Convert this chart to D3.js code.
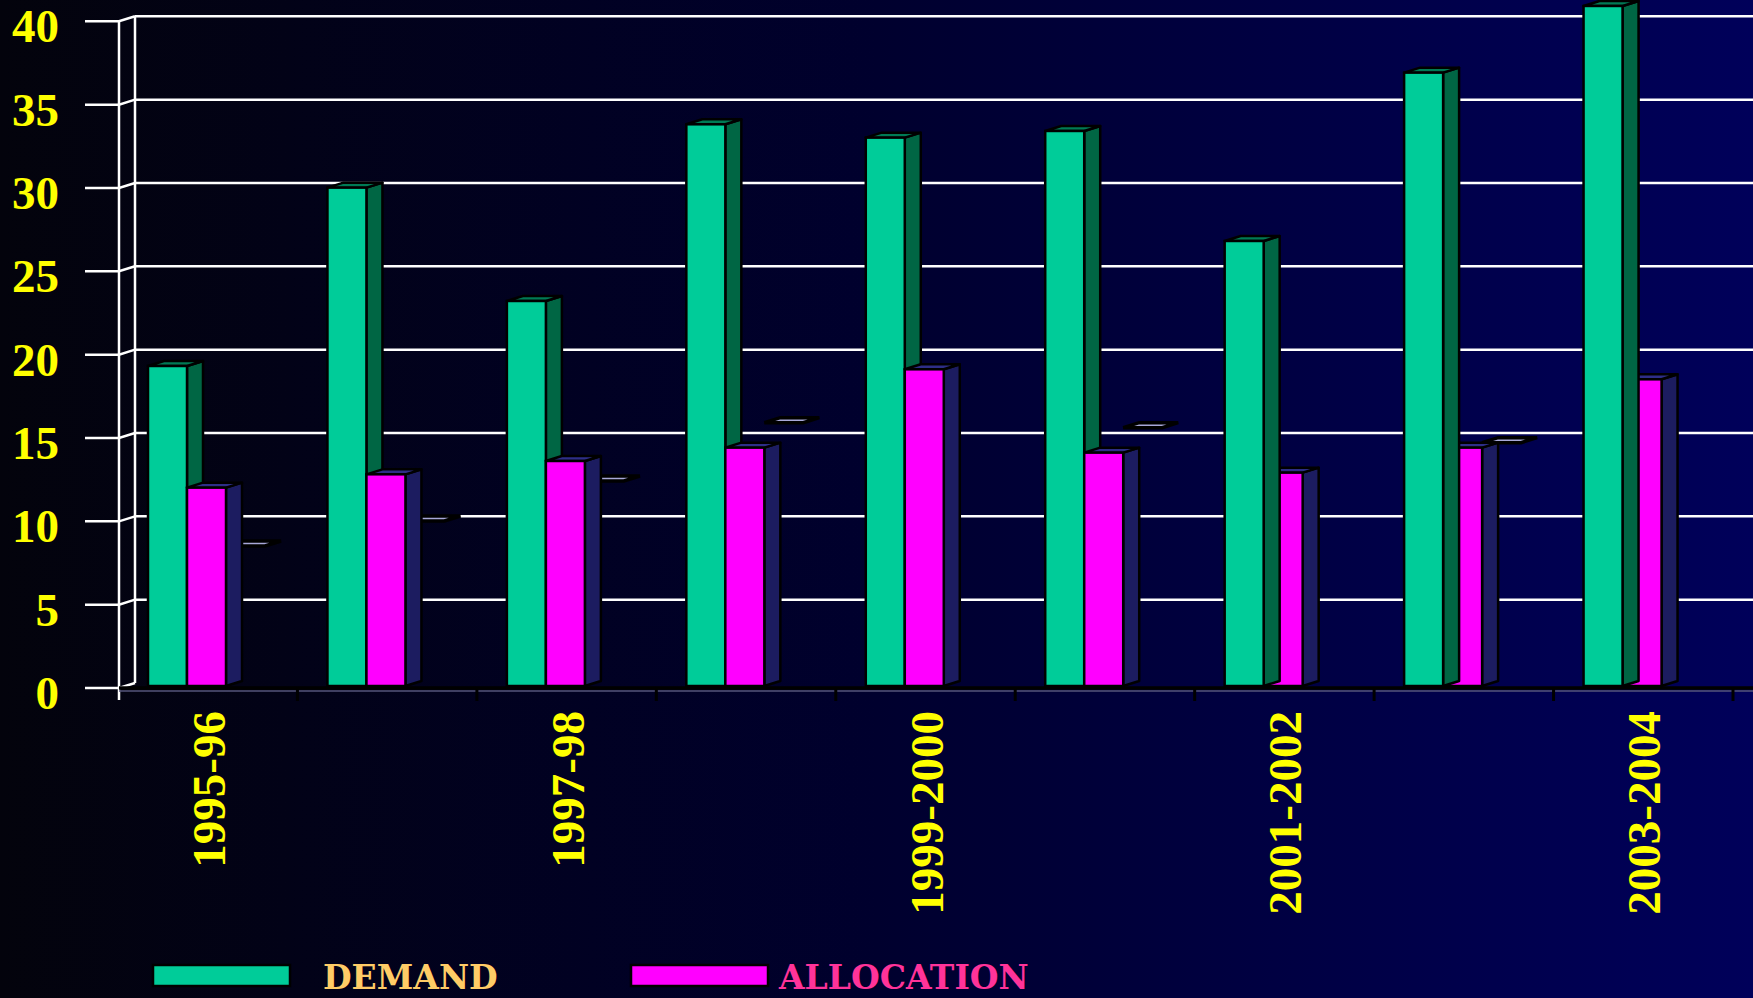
<!DOCTYPE html>
<html>
<head>
<meta charset="utf-8">
<script src="https://cdn.jsdelivr.net/npm/d3@7/dist/d3.min.js"></script>
<style>
  html, body { margin: 0; padding: 0; background: #000; }
  svg { display: block; }
</style>
</head>
<body>
<svg id="chart"></svg>
<script>
var width = 1753,
  height = 998;

// data
var categories = ["1995-96", "1996-97", "1997-98", "1998-99", "1999-2000",
  "2000-2001", "2001-2002", "2002-2003", "2003-2004"];
var demand = [19.2, 29.9, 23.1, 33.7, 32.9, 33.3, 26.7, 36.8, 40.8];
var allocation = [11.9, 12.7, 13.5, 14.3, 19.0, 14.0, 12.8, 14.3, 18.4];
// stray flat plates of an empty third series
var plates = [8.4, 9.9, 12.3, 15.8, null, 15.5, null, 14.6, null];
var yTicks = [0, 5, 10, 15, 20, 25, 30, 35, 40];
var xTickLabels = ["1995-96", "1997-98", "1999-2000", "2001-2002", "2003-2004"];

var depthX = 16, depthY = -5;

var svg = d3.select("#chart").attr("width", width).attr("height", height);

var defs = svg.append("defs");
var grad = defs.append("linearGradient").attr("id", "bg")
  .attr("x1", "0%").attr("y1", "0%").attr("x2", "100%").attr("y2", "0%");
grad.append("stop").attr("offset", "0%").attr("stop-color", "#03030c");
grad.append("stop").attr("offset", "50%").attr("stop-color", "#00002e");
grad.append("stop").attr("offset", "100%").attr("stop-color", "#00005a");

svg.append("rect").attr("width", width).attr("height", height).attr("fill", "url(#bg)");

var x = d3.scaleBand().domain(categories).range([118, 1733]).padding(0);
var xs = d3.scaleBand().domain(["demand", "allocation", "plate"]).range([30, 147]).padding(0);
var y = d3.scaleLinear().domain([0, 40]).range([686, 19.3]);

var wallX = 135, frontX = 119;

// gridlines on the back wall, ticks on the front
var grid = svg.append("g");
yTicks.forEach(function (t) {
  var yf = y(t) + 2, yb = y(t) - 3;
  if (t > 0) {
    grid.append("line").attr("x1", wallX).attr("x2", width).attr("y1", yb).attr("y2", yb)
      .attr("stroke", "#fff").attr("stroke-width", 2.5);
  }
  grid.append("path")
    .attr("d", "M85," + yf + "L" + frontX + "," + yf + "L" + wallX + "," + yb)
    .attr("fill", "none").attr("stroke", "#fff").attr("stroke-width", 2.5);
});
grid.append("line").attr("x1", wallX).attr("x2", wallX).attr("y1", y(40) - 3).attr("y2", y(0) - 3)
  .attr("stroke", "#fff").attr("stroke-width", 2.5);
grid.append("line").attr("x1", frontX).attr("x2", frontX).attr("y1", y(40) + 2).attr("y2", 700)
  .attr("stroke", "#fff").attr("stroke-width", 2.5);

// y labels
svg.append("g").selectAll("text").data(yTicks).enter().append("text")
  .attr("x", 59)
  .attr("y", function (d) { return y(d) + 23; })
  .attr("text-anchor", "end")
  .attr("font-family", "'Liberation Serif', 'Times New Roman', serif")
  .attr("font-weight", "bold")
  .attr("font-size", "47px")
  .attr("fill", "#ffff00")
  .text(function (d) { return d; });

// floor
var floor = svg.append("g");
floor.append("line").attr("x1", frontX).attr("x2", width).attr("y1", 691).attr("y2", 691)
  .attr("stroke", "#55557a").attr("stroke-width", 1.5);
floor.append("line").attr("x1", frontX).attr("x2", width).attr("y1", 688).attr("y2", 688)
  .attr("stroke", "#000").attr("stroke-width", 3.5);
categories.forEach(function (c, i) {
  if (i === 0) return;
  floor.append("line").attr("x1", x(c)).attr("x2", x(c)).attr("y1", 688).attr("y2", 701)
    .attr("stroke", "#000").attr("stroke-width", 3);
});
floor.append("line").attr("x1", x.range()[1]).attr("x2", x.range()[1]).attr("y1", 688).attr("y2", 701)
  .attr("stroke", "#000").attr("stroke-width", 3);

function drawBar(g, x0, w, v, front, side, top) {
  var yt = y(v), yb = y(0);
  g.append("path")
    .attr("d", "M" + (x0 + w) + "," + yb + "L" + (x0 + w + depthX) + "," + (yb + depthY) +
      "L" + (x0 + w + depthX) + "," + (yt + depthY) + "L" + (x0 + w) + "," + yt + "Z")
    .attr("fill", side).attr("stroke", "#000").attr("stroke-width", 2.5).attr("stroke-linejoin", "round");
  g.append("path")
    .attr("d", "M" + x0 + "," + yt + "L" + (x0 + w) + "," + yt + "L" + (x0 + w + depthX) + "," + (yt + depthY) +
      "L" + (x0 + depthX) + "," + (yt + depthY) + "Z")
    .attr("fill", top).attr("stroke", "#000").attr("stroke-width", 2.5).attr("stroke-linejoin", "round");
  g.append("rect").attr("x", x0).attr("y", yt).attr("width", w).attr("height", yb - yt)
    .attr("fill", front).attr("stroke", "#000").attr("stroke-width", 2.5);
}

var bars = svg.append("g");
categories.forEach(function (c, i) {
  var g = bars.append("g");
  var b = x(c);
  if (plates[i] != null) {
    var px = b + xs("plate"), pw = xs.bandwidth(), py = y(plates[i]);
    g.append("path")
      .attr("d", "M" + px + "," + py + "L" + (px + pw) + "," + py + "L" + (px + pw + depthX) + "," + (py + depthY) +
        "L" + (px + depthX) + "," + (py + depthY) + "Z")
      .attr("fill", "#a8a8d8").attr("stroke", "#000").attr("stroke-width", 3.5);
  }
  var drawDemand = function () {
    drawBar(g, b + xs("demand"), xs.bandwidth(), demand[i], "#00cc99", "#006644", "#007a55");
  };
  var drawAlloc = function () {
    drawBar(g, b + xs("allocation"), xs.bandwidth(), allocation[i], "#ff00ff", "#1c1c60", "#2e2e88");
  };
  if (i < 6) { drawDemand(); drawAlloc(); } else { drawAlloc(); drawDemand(); }
});

// x labels
svg.append("g").selectAll("text").data(xTickLabels).enter().append("text")
  .attr("transform", function (d) {
    return "translate(" + (x(d) + x.bandwidth() / 2 + 17) + ",711) rotate(-90)";
  })
  .attr("text-anchor", "end")
  .attr("font-family", "'Liberation Serif', 'Times New Roman', serif")
  .attr("font-weight", "bold")
  .attr("font-size", "47px")
  .attr("fill", "#ffff00")
  .text(function (d) { return d; });

// legend
var legend = [
  { name: "DEMAND", color: "#00cc99", text: "#ffcc66", x: 153, tx: 323 },
  { name: "ALLOCATION", color: "#ff00ff", text: "#ff3399", x: 631, tx: 779 }
];
var lg = svg.append("g");
legend.forEach(function (d) {
  lg.append("rect").attr("x", d.x).attr("y", 965).attr("width", 137).attr("height", 21)
    .attr("fill", d.color).attr("stroke", "#000").attr("stroke-width", 2.5);
  lg.append("text").attr("x", d.tx).attr("y", 989)
    .attr("font-family", "'DejaVu Serif', serif")
    .attr("font-weight", "bold")
    .attr("font-size", "33px")
    .attr("fill", d.text)
    .text(d.name);
});
</script>
</body>
</html>
